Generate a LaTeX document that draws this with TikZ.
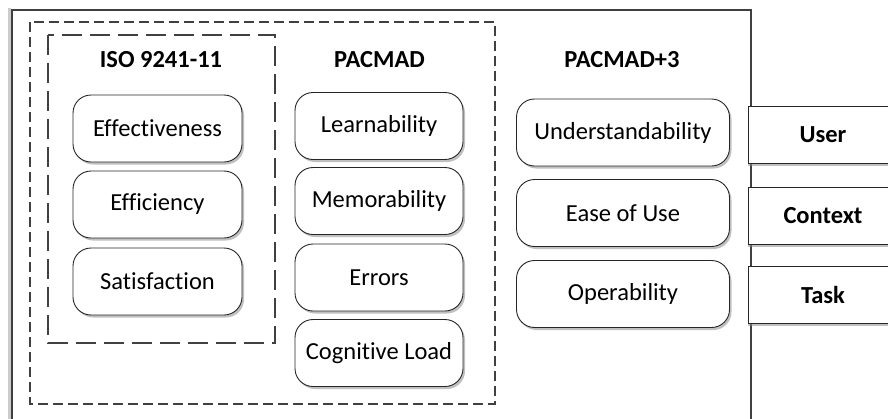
\documentclass[tikz,border=0pt]{standalone}
\usepackage{fontspec}
\setmainfont[Ligatures=CommonOff]{Carlito}
\usepackage{tikz}
\usetikzlibrary{shadows}

\newcommand{\labelsize}{\fontsize{24.5}{28}\selectfont}

\tikzset{
  attr/.style={draw=black!85, fill=white, rounded corners=18pt, minimum height=67pt,
    text=black, font=\labelsize, line width=0.9pt,
    drop shadow={shadow xshift=2pt, shadow yshift=-2.5pt, fill=black!45, opacity=0.55}},
  facet/.style={draw=black!85, fill=white, minimum width=150pt, minimum height=57pt,
    text=black, font=\labelsize\bfseries, line width=0.9pt,
    drop shadow={shadow xshift=0pt, shadow yshift=-2.5pt, fill=black!45, opacity=0.55}},
  grouptitle/.style={font=\labelsize\bfseries, text=black},
  groupbox/.style={draw=black!75, line width=1.1pt}
}

\begin{document}
\begin{tikzpicture}[x=1pt, y=-1pt]
  \useasboundingbox (0,0) rectangle (888,418);

  % open frame round the three groups
  \draw[black!20, line width=3pt] (9,425) -- (9,8);
  \draw[black!75, line width=1.4pt] (12,425) -- (12,10) -- (751,10) -- (751,425);

  % dashed groups
  \draw[groupbox, dash pattern=on 10pt off 5pt] (30,22) rectangle (495,404);
  \draw[groupbox, dash pattern=on 20pt off 8pt] (48,35) rectangle (275,343);

  % ISO 9241-11
  \node[grouptitle] (iso) at (161,60) {ISO 9241-11};
  \node[attr, minimum width=169pt] (effect) at (157.5,128.5) {Effectiveness};
  \node[attr, minimum width=169pt] (effic)  at (157.5,204.5) {Efficiency};
  \node[attr, minimum width=169pt] (satis)  at (157.5,281.5) {Satisfaction};

  % PACMAD
  \node[grouptitle] (pacmad) at (379.5,60) {PACMAD};
  \node[attr, minimum width=168pt] (learn)   at (379,126) {Learnability};
  \node[attr, minimum width=168pt] (memo)    at (379,201) {Memorability};
  \node[attr, minimum width=168pt] (errors)  at (379,277.5) {Errors};
  \node[attr, minimum width=168pt] (cogload) at (379,353) {Cognitive Load};

  % PACMAD+3
  \node[grouptitle] (pacmadthree) at (622,60) {PACMAD+3};
  \node[attr, minimum width=213pt] (under) at (623,132.5) {Understandability};
  \node[attr, minimum width=213pt] (ease)  at (623,213) {Ease of Use};
  \node[attr, minimum width=213pt] (oper)  at (623,294) {Operability};

  % user, context, task
  \node[facet] (user)    at (823,135) {User};
  \node[facet] (context) at (823,215.5) {Context};
  \node[facet] (task)    at (823,295) {Task};
\end{tikzpicture}
\end{document}
